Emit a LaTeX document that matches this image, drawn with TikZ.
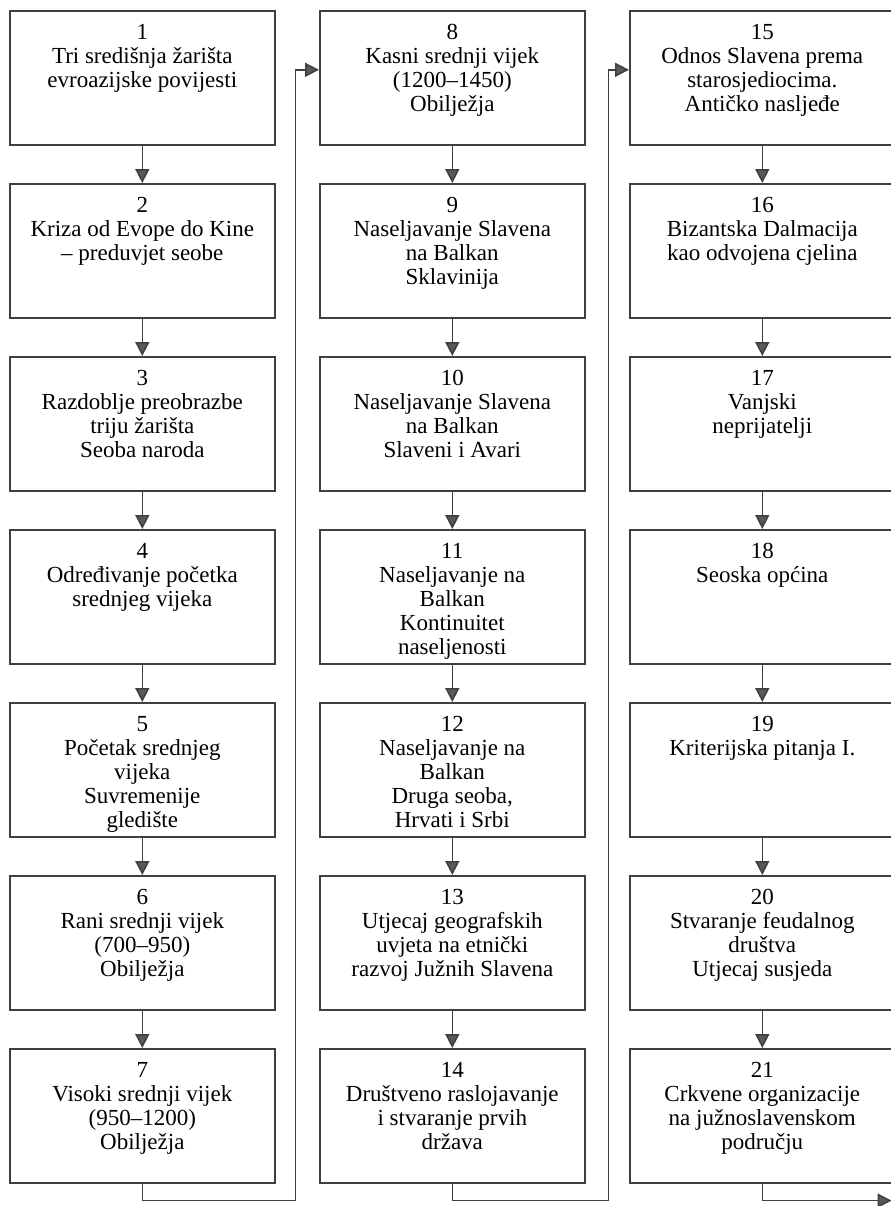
\documentclass[tikz,border=0pt]{standalone}
\usepackage{fontspec}
\setmainfont{Liberation Serif}
\usetikzlibrary{positioning,arrows.meta}
\newcommand{\tema}[2]{\parbox[c][67pt][t]{132.5pt}{\centering\rule{0pt}{14.5pt}#1\\#2}}
\begin{document}
\begin{tikzpicture}[
  okvir/.style={draw=black!75, line width=0.8pt, inner sep=0pt, font=\fontsize{11.5}{11.9}\selectfont},
  pil/.style={draw=black!75, line width=0.8pt, -{Triangle[length=7pt,width=7pt,fill=black!65]}},
  node distance=18.7pt and 21.7pt]
\useasboundingbox (-4.5pt,5pt) rectangle (440.5pt,-598pt);

\node[okvir, anchor=north west] (t1) at (0,0) {\tema{1}{Tri središnja žarišta\\evroazijske povijesti}};
\node[okvir, below=of t1] (t2) {\tema{2}{Kriza od Evope do Kine\\– preduvjet seobe}};
\node[okvir, below=of t2] (t3) {\tema{3}{Razdoblje preobrazbe\\triju žarišta\\Seoba naroda}};
\node[okvir, below=of t3] (t4) {\tema{4}{Određivanje početka\\srednjeg vijeka}};
\node[okvir, below=of t4] (t5) {\tema{5}{Početak srednjeg\\vijeka\\Suvremenije\\gledište}};
\node[okvir, below=of t5] (t6) {\tema{6}{Rani srednji vijek\\(700–950)\\Obilježja}};
\node[okvir, below=of t6] (t7) {\tema{7}{Visoki srednji vijek\\(950–1200)\\Obilježja}};

\node[okvir, right=of t1] (t8) {\tema{8}{Kasni srednji vijek\\(1200–1450)\\Obilježja}};
\node[okvir, below=of t8] (t9) {\tema{9}{Naseljavanje Slavena\\na Balkan\\Sklavinija}};
\node[okvir, below=of t9] (t10) {\tema{10}{Naseljavanje Slavena\\na Balkan\\Slaveni i Avari}};
\node[okvir, below=of t10] (t11) {\tema{11}{Naseljavanje na\\Balkan\\Kontinuitet\\naseljenosti}};
\node[okvir, below=of t11] (t12) {\tema{12}{Naseljavanje na\\Balkan\\Druga seoba,\\Hrvati i Srbi}};
\node[okvir, below=of t12] (t13) {\tema{13}{Utjecaj geografskih\\uvjeta na etnički\\razvoj Južnih Slavena}};
\node[okvir, below=of t13] (t14) {\tema{14}{Društveno raslojavanje\\i stvaranje prvih\\država}};

\node[okvir, right=of t8] (t15) {\tema{15}{Odnos Slavena prema\\starosjediocima.\\Antičko nasljeđe}};
\node[okvir, below=of t15] (t16) {\tema{16}{Bizantska Dalmacija\\kao odvojena cjelina}};
\node[okvir, below=of t16] (t17) {\tema{17}{Vanjski\\neprijatelji}};
\node[okvir, below=of t17] (t18) {\tema{18}{Seoska općina}};
\node[okvir, below=of t18] (t19) {\tema{19}{Kriterijska pitanja I.}};
\node[okvir, below=of t19] (t20) {\tema{20}{Stvaranje feudalnog\\društva\\Utjecaj susjeda}};
\node[okvir, below=of t20] (t21) {\tema{21}{Crkvene organizacije\\na južnoslavenskom\\području}};

\foreach \a/\b in {1/2,2/3,3/4,4/5,5/6,6/7,8/9,9/10,10/11,11/12,12/13,13/14,15/16,16/17,17/18,18/19,19/20,20/21}
  \draw[pil] (t\a) -- (t\b);

\coordinate (k1) at ([xshift=10pt,yshift=-8.5pt]t7.south east);
\coordinate (k2) at ([xshift=11.5pt,yshift=-8.5pt]t14.south east);
\coordinate (k3) at ([xshift=-2pt,yshift=-8.5pt]t21.south east);

\draw[pil] (t7.south) |- (k1) |- ([yshift=4pt]t8.west);
\draw[pil] (t14.south) |- (k2) |- ([yshift=4pt]t15.west);
\draw[pil] (t21.south) |- (k3);
\end{tikzpicture}
\end{document}
